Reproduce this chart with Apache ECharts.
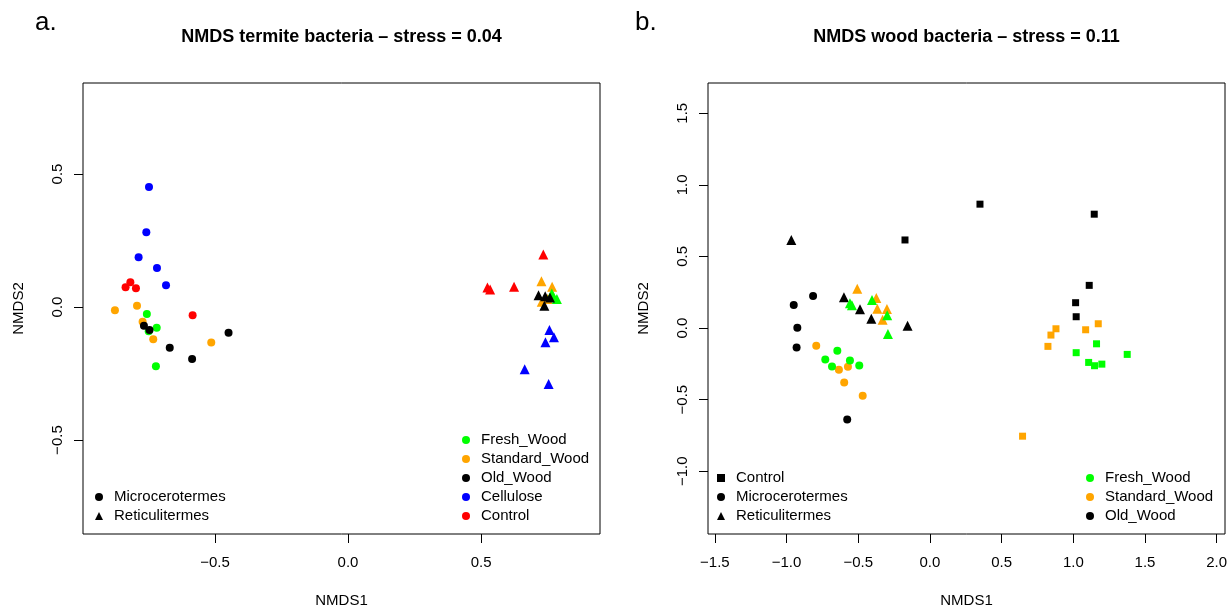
<!DOCTYPE html>
<html>
<head>
<meta charset="utf-8">
<script src="https://cdn.jsdelivr.net/npm/echarts@6/dist/echarts.min.js"></script>
<style>
  html, body { margin: 0; padding: 0; background: #fff; }
  #chart { width: 1231px; height: 607px; }
</style>
</head>
<body>
<div id="chart"></div>
<script>
// termite bacteria NMDS (panel a), [NMDS1, NMDS2]
var termFreshCirc = [[-0.756,-0.026],[-0.719,-0.078],[-0.749,-0.091],[-0.722,-0.223]]
var termStdCirc = [[-0.876,-0.012],[-0.793,0.005],[-0.772,-0.055],[-0.732,-0.121],[-0.514,-0.133]]
var termOldCirc = [[-0.767,-0.070],[-0.746,-0.086],[-0.670,-0.153],[-0.586,-0.195],[-0.449,-0.097]]
var termCellCirc = [[-0.748,0.451],[-0.758,0.281],[-0.787,0.187],[-0.718,0.147],[-0.684,0.082]]
var termCtrlCirc = [[-0.836,0.074],[-0.818,0.093],[-0.797,0.071],[-0.584,-0.031]]
var termStdTri = [[0.727,0.097],[0.767,0.076],[0.728,0.020],[0.750,0.030]]
var termFreshTri = [[0.772,0.039],[0.766,0.051],[0.785,0.030]]
var termOldTri = [[0.716,0.044],[0.741,0.041],[0.759,0.036],[0.738,0.005]]
var termCellTri = [[0.757,-0.086],[0.774,-0.114],[0.742,-0.132],[0.664,-0.234],[0.754,-0.289]]
var termCtrlTri = [[0.734,0.197],[0.524,0.073],[0.534,0.066],[0.624,0.076]]

// wood bacteria NMDS (panel b)
var woodOldCirc = [[-0.950,0.161],[-0.815,0.224],[-0.925,0.002],[-0.930,-0.135],[-0.577,-0.638]]
var woodStdCirc = [[-0.793,-0.124],[-0.635,-0.291],[-0.572,-0.270],[-0.598,-0.380],[-0.469,-0.473]]
var woodFreshCirc = [[-0.646,-0.159],[-0.730,-0.219],[-0.683,-0.268],[-0.558,-0.226],[-0.493,-0.261]]
var woodOldTri = [[-0.967,0.615],[-0.600,0.215],[-0.488,0.131],[-0.409,0.065],[-0.156,0.016]]
var woodStdTri = [[-0.507,0.275],[-0.374,0.210],[-0.367,0.135],[-0.300,0.133],[-0.330,0.058]]
var woodFreshTri = [[-0.558,0.173],[-0.544,0.159],[-0.404,0.196],[-0.298,0.089],[-0.293,-0.042]]
var woodOldSq = [[-0.174,0.615],[0.349,0.865],[1.146,0.795],[1.111,0.298],[1.016,0.177],[1.020,0.079]]
var woodStdSq = [[0.879,-0.005],[0.844,-0.049],[0.823,-0.128],[1.086,-0.012],[1.174,0.030],[0.646,-0.755]]
var woodFreshSq = [[1.162,-0.110],[1.020,-0.172],[1.107,-0.240],[1.148,-0.263],[1.199,-0.252],[1.376,-0.184]]

// tick labels
var termTicksX = [-0.5, 0, 0.5]
var termTicksY = [-0.5, 0, 0.5]
var woodTicksX = [-1.5, -1, -0.5, 0, 0.5, 1, 1.5, 2]
var woodTicksY = [-1, -0.5, 0, 0.5, 1, 1.5]

var FONT = "Liberation Sans"
var colors = {
    "Fresh_Wood": "#00ff00",
    "Standard_Wood": "#ffa500",
    "Old_Wood": "#000000",
    "Cellulose": "#0000ff",
    "Control": "#ff0000"
}
var shapeSize = { circle: 8, triangle: 10, rect: 7 }

function fmt(v) {
    return v.toFixed(1).replace("-", "\u2212")
}

function pts(name, data, shape, idx) {
    return {
        name: name,
        type: "scatter",
        xAxisIndex: idx,
        yAxisIndex: idx,
        data: data,
        symbol: shape,
        symbolSize: shapeSize[shape],
        itemStyle: { color: colors[name], opacity: 1 },
        emphasis: { disabled: true }
    }
}

function xAx(idx, min, max, ticks) {
    return {
        type: "value", gridIndex: idx, min: min, max: max,
        name: "NMDS1", nameLocation: "middle", nameGap: 59,
        nameTextStyle: { fontFamily: FONT, fontSize: 15, color: "#000" },
        axisLine: { show: false, onZero: false },
        axisTick: { show: true, inside: false, length: 9, customValues: ticks,
            lineStyle: { color: "#000", width: 1 } },
        axisLabel: { customValues: ticks, formatter: fmt, margin: 21,
            fontFamily: FONT, fontSize: 15, color: "#000" },
        splitLine: { show: false }
    }
}

function yAx(idx, min, max, ticks) {
    return {
        type: "value", gridIndex: idx, min: min, max: max,
        name: "NMDS2", nameLocation: "middle", nameGap: 57,
        nameTextStyle: { fontFamily: FONT, fontSize: 15, color: "#000" },
        axisLine: { show: false, onZero: false },
        axisTick: { show: true, inside: false, length: 9, customValues: ticks,
            lineStyle: { color: "#000", width: 1 } },
        axisLabel: { customValues: ticks, formatter: fmt, margin: 18, rotate: 90,
            fontFamily: FONT, fontSize: 15, color: "#000" },
        splitLine: { show: false }
    }
}

function legendBox(left, top, items) {
    return {
        orient: "vertical", left: left, top: top, padding: 0, itemGap: 0,
        itemWidth: 8, itemHeight: 8, selectedMode: false,
        textStyle: { fontFamily: FONT, fontSize: 15, color: "#000", lineHeight: 19,
            padding: [0, 0, 0, 6] },
        data: items
    }
}

var black = { color: "#000", opacity: 1 }

var chart = echarts.init(document.getElementById("chart"))

var option = {
    animation: false,
    backgroundColor: "#fff",
    title: [
        { text: "a.", left: 35, top: 10, padding: 0,
          textStyle: { fontFamily: FONT, fontSize: 26, fontWeight: "normal", color: "#000" } },
        { text: "NMDS termite bacteria \u2013 stress = 0.04", left: 341.5, top: 28, padding: 0,
          textAlign: "center",
          textStyle: { fontFamily: FONT, fontSize: 18, fontWeight: "bold", color: "#000" } },
        { text: "b.", left: 635, top: 10, padding: 0,
          textStyle: { fontFamily: FONT, fontSize: 26, fontWeight: "normal", color: "#000" } },
        { text: "NMDS wood bacteria \u2013 stress = 0.11", left: 966.5, top: 28, padding: 0,
          textAlign: "center",
          textStyle: { fontFamily: FONT, fontSize: 18, fontWeight: "bold", color: "#000" } }
    ],
    grid: [
        { left: 83, top: 83, width: 517, height: 451, show: true, outerBoundsMode: "none",
          borderColor: "#000", borderWidth: 1, backgroundColor: "transparent" },
        { left: 708, top: 83, width: 517, height: 451, show: true, outerBoundsMode: "none",
          borderColor: "#000", borderWidth: 1, backgroundColor: "transparent" }
    ],
    xAxis: [
        xAx(0, -0.996, 0.947, termTicksX),
        xAx(1, -1.548, 2.058, woodTicksX)
    ],
    yAxis: [
        yAx(0, -0.853, 0.842, termTicksY),
        yAx(1, -1.438, 1.711, woodTicksY)
    ],
    legend: [
        legendBox(95, 487.5, [
            { name: "Microcerotermes", icon: "circle", itemStyle: black },
            { name: "Reticulitermes", icon: "triangle", itemStyle: black }
        ]),
        legendBox(462, 430.5, [
            { name: "Fresh_Wood", icon: "circle" },
            { name: "Standard_Wood", icon: "circle" },
            { name: "Old_Wood", icon: "circle" },
            { name: "Cellulose", icon: "circle" },
            { name: "Control", icon: "circle" }
        ]),
        legendBox(717, 468.5, [
            { name: "Control", icon: "rect", itemStyle: black },
            { name: "Microcerotermes", icon: "circle", itemStyle: black },
            { name: "Reticulitermes", icon: "triangle", itemStyle: black }
        ]),
        legendBox(1086, 468.5, [
            { name: "Fresh_Wood", icon: "circle" },
            { name: "Standard_Wood", icon: "circle" },
            { name: "Old_Wood", icon: "circle" }
        ])
    ],
    series: [
        pts("Cellulose", termCellCirc, "circle", 0),
        pts("Control", termCtrlCirc, "circle", 0),
        pts("Standard_Wood", termStdCirc, "circle", 0),
        pts("Fresh_Wood", termFreshCirc, "circle", 0),
        pts("Old_Wood", termOldCirc, "circle", 0),
        pts("Control", termCtrlTri, "triangle", 0),
        pts("Cellulose", termCellTri, "triangle", 0),
        pts("Standard_Wood", termStdTri, "triangle", 0),
        pts("Fresh_Wood", termFreshTri, "triangle", 0),
        pts("Old_Wood", termOldTri, "triangle", 0),

        pts("Old_Wood", woodOldCirc, "circle", 1),
        pts("Standard_Wood", woodStdCirc, "circle", 1),
        pts("Fresh_Wood", woodFreshCirc, "circle", 1),
        pts("Old_Wood", woodOldTri, "triangle", 1),
        pts("Standard_Wood", woodStdTri, "triangle", 1),
        pts("Fresh_Wood", woodFreshTri, "triangle", 1),
        pts("Old_Wood", woodOldSq, "rect", 1),
        pts("Standard_Wood", woodStdSq, "rect", 1),
        pts("Fresh_Wood", woodFreshSq, "rect", 1),

        // legend-only entries for the termite genus shapes
        { name: "Microcerotermes", type: "scatter", data: [], symbol: "circle",
          itemStyle: { color: "#000" } },
        { name: "Reticulitermes", type: "scatter", data: [], symbol: "triangle",
          itemStyle: { color: "#000" } }
    ]
}
chart.setOption(option)
</script>
</body>
</html>
